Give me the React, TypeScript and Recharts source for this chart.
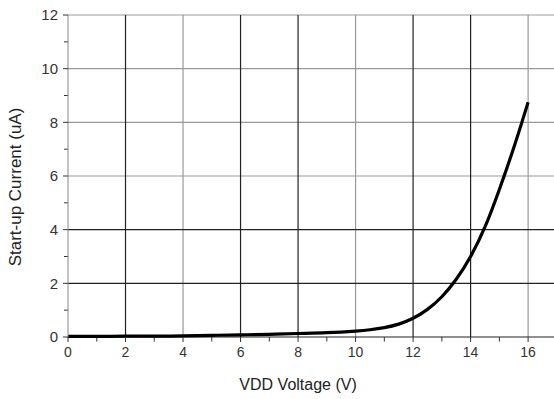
import React from "react";
import { LineChart, Line, XAxis, YAxis, ReferenceLine } from "recharts";

const voltage = [0, 1, 2, 3, 4, 5, 6, 7, 8, 9, 10, 10.5, 11, 11.5, 12, 12.5, 13, 13.5, 14, 14.5, 15, 15.5, 16];
const current = [0.02, 0.02, 0.03, 0.03, 0.04, 0.06, 0.08, 0.1, 0.13, 0.16, 0.22, 0.27, 0.35, 0.48, 0.7, 1.03, 1.5, 2.15, 3.0, 4.1, 5.5, 7.05, 8.75];
const xTicks = [0, 2, 4, 6, 8, 10, 12, 14, 16];
const yTicks = [0, 2, 4, 6, 8, 10, 12];
const xMinor = [1, 3, 5, 7, 9, 11, 13, 15];
const yMinor = [1, 3, 5, 7, 9, 11];
const xGridDark = [2, 6, 8, 12, 14];
const xGridLight = [4, 10, 16];
const yGridDark = [2, 4];
const yGridLight = [6, 8, 10, 12];

const data = voltage.map((v, i) => ({ v, c: current[i] }));

const FONT = "'Liberation Sans', Arial, sans-serif";

const YLabel = (props: any) => {
  const vb = props.viewBox || {};
  const cx = vb.x + 15;
  const cy = vb.y + vb.height / 2 + 11;
  return (
    <text
      x={cx}
      y={cy}
      transform={`rotate(-90 ${cx} ${cy})`}
      textAnchor="middle"
      dominantBaseline="central"
      style={{ fontFamily: FONT, fontSize: 17, fill: "#222" }}
    >
      Start-up Current (uA)
    </text>
  );
};

const XLabel = (props: any) => {
  const vb = props.viewBox || {};
  const cx = vb.x + (vb.width * 8) / 16.9;
  const y = vb.y + 53;
  return (
    <text x={cx} y={y} textAnchor="middle" style={{ fontFamily: FONT, fontSize: 16, fill: "#222" }}>
      VDD Voltage (V)
    </text>
  );
};

export default function App() {
  return (
    <div style={{ position: "absolute", left: 0, top: 0, width: 554, height: 399, overflow: "hidden", background: "#fff" }}>
      <LineChart width={554} height={399} data={data} margin={{ top: 15, right: 0, bottom: 0, left: 0 }}>
        <XAxis
          dataKey="v"
          type="number"
          domain={[0, 16.9]}
          ticks={xTicks}
          allowDataOverflow
          height={62}
          axisLine={false}
          tickLine={{ stroke: "#333" }}
          tickSize={5}
          tickMargin={5}
          tick={{ fontFamily: FONT, fontSize: 14, fill: "#333" }}
          label={<XLabel />}
        />
        <YAxis
          type="number"
          domain={[0, 12]}
          ticks={yTicks}
          width={68}
          axisLine={{ stroke: "#888" }}
          tickLine={{ stroke: "#333" }}
          tickSize={5}
          tickMargin={5}
          tick={{ fontFamily: FONT, fontSize: 15, fill: "#333" }}
          label={<YLabel />}
        />
        {yGridLight.map((y) => (
          <ReferenceLine key={"yl" + y} y={y} stroke="#999" strokeWidth={1.2} />
        ))}
        {xGridLight.map((x) => (
          <ReferenceLine key={"xl" + x} x={x} stroke="#999" strokeWidth={1.2} />
        ))}
        {yGridDark.map((y) => (
          <ReferenceLine key={"yd" + y} y={y} stroke="#222" strokeWidth={1.2} />
        ))}
        {xGridDark.map((x) => (
          <ReferenceLine key={"xd" + x} x={x} stroke="#222" strokeWidth={1.2} />
        ))}
        <ReferenceLine y={0} stroke="#222" strokeWidth={1.2} />
        {xMinor.map((x) => (
          <ReferenceLine key={"xm" + x} segment={[{ x, y: 0 }, { x, y: -0.17 }]} stroke="#333" ifOverflow="visible" />
        ))}
        {yMinor.map((y) => (
          <ReferenceLine key={"ym" + y} segment={[{ x: 0, y }, { x: -0.14, y }]} stroke="#333" ifOverflow="visible" />
        ))}
        <Line
          type="natural"
          dataKey="c"
          stroke="#000"
          strokeWidth={3.2}
          dot={false}
          isAnimationActive={false}
        />
      </LineChart>
    </div>
  );
}
